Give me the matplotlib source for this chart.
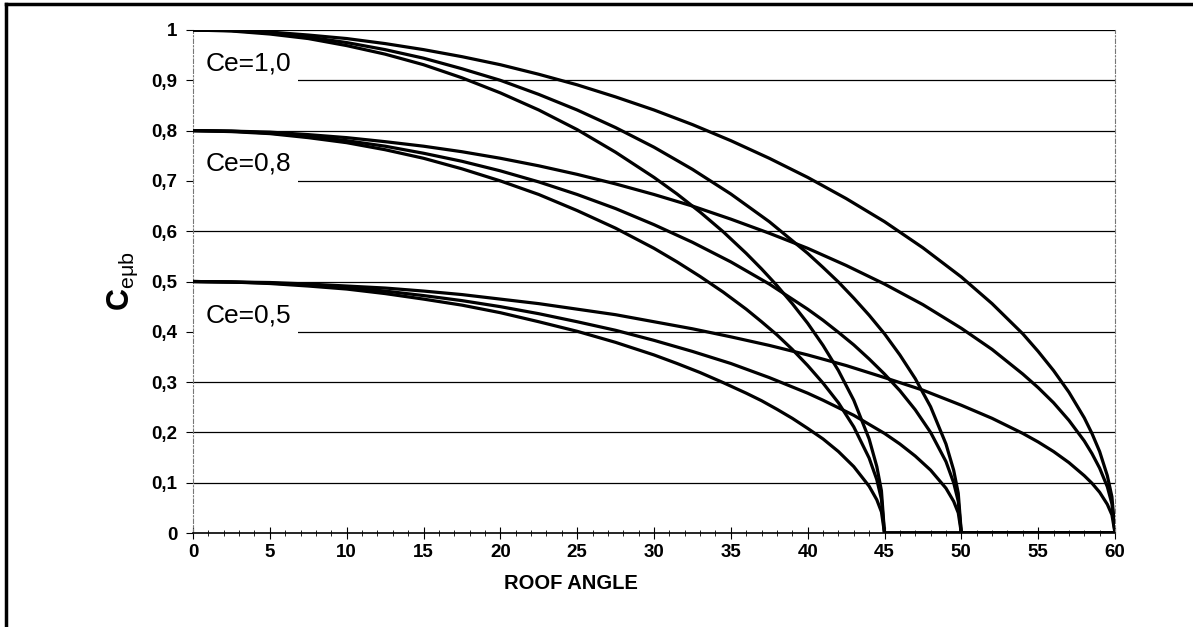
import matplotlib
matplotlib.use('Agg')
import matplotlib.pyplot as plt
from matplotlib.lines import Line2D
from matplotlib.patches import Rectangle
from matplotlib.ticker import MultipleLocator

plt.rcParams['font.family'] = ['Liberation Sans', 'DejaVu Sans']
plt.rcParams['mathtext.fontset'] = 'custom'
plt.rcParams['mathtext.rm'] = 'Liberation Sans'
plt.rcParams['mathtext.it'] = 'Liberation Sans'
plt.rcParams['mathtext.bf'] = 'Liberation Sans:bold'

# roof angle points for the curves that end at 60, 50 and 45 degrees
x_60 = [0, 2.5, 5, 7.5, 10, 12.5, 15, 17.5, 20, 22.5, 25, 27.5, 30, 32.5, 35, 37.5,
        40, 42.5, 45, 47.5, 50, 52, 54, 55, 56, 57, 58, 58.5, 59, 59.5, 59.8, 60]
x_50 = [0, 2.5, 5, 7.5, 10, 12.5, 15, 17.5, 20, 22.5, 25, 27.5, 30, 32.5, 35, 37.5,
        40, 41, 42, 43, 44, 45, 46, 47, 48, 49, 49.5, 49.8, 50, 60]
x_45 = [0, 2.5, 5, 7.5, 10, 12.5, 15, 17.5, 20, 22.5, 25, 27.5, 30, 31.5, 33, 34.5,
        36, 37, 38, 39, 40, 41, 42, 43, 44, 44.5, 44.8, 45, 60]

# Ce = 1,0
ce10_60 = [1.0, 0.999, 0.996, 0.990, 0.983, 0.973, 0.961, 0.947, 0.931, 0.912,
           0.891, 0.867, 0.841, 0.812, 0.780, 0.745, 0.707, 0.665, 0.619, 0.567,
           0.509, 0.456, 0.396, 0.361, 0.323, 0.280, 0.229, 0.198, 0.162, 0.114,
           0.072, 0.0]
ce10_50 = [1.0, 0.999, 0.994, 0.986, 0.975, 0.961, 0.944, 0.923, 0.900, 0.872,
           0.841, 0.806, 0.767, 0.723, 0.674, 0.619, 0.556, 0.528, 0.499, 0.467,
           0.433, 0.396, 0.354, 0.307, 0.251, 0.177, 0.125, 0.079, 0.0, 0.0]
ce10_45 = [1.0, 0.998, 0.992, 0.983, 0.969, 0.952, 0.931, 0.905, 0.875, 0.841,
           0.802, 0.757, 0.707, 0.674, 0.638, 0.599, 0.556, 0.525, 0.492, 0.456,
           0.417, 0.373, 0.323, 0.264, 0.187, 0.132, 0.084, 0.0, 0.0]

# Ce = 0,8
ce08_60 = [0.8, 0.799, 0.797, 0.792, 0.786, 0.778, 0.769, 0.758, 0.745, 0.730,
           0.713, 0.694, 0.673, 0.650, 0.624, 0.596, 0.566, 0.532, 0.495, 0.454,
           0.407, 0.365, 0.316, 0.289, 0.259, 0.224, 0.183, 0.158, 0.129, 0.092,
           0.058, 0.0]
ce08_50 = [0.8, 0.799, 0.795, 0.789, 0.780, 0.769, 0.755, 0.739, 0.720, 0.698,
           0.673, 0.645, 0.613, 0.578, 0.539, 0.495, 0.445, 0.423, 0.399, 0.374,
           0.346, 0.316, 0.283, 0.245, 0.200, 0.142, 0.100, 0.063, 0.0, 0.0]
ce08_45 = [0.8, 0.798, 0.794, 0.786, 0.776, 0.762, 0.745, 0.724, 0.700, 0.673,
           0.641, 0.606, 0.566, 0.539, 0.510, 0.479, 0.445, 0.420, 0.394, 0.365,
           0.333, 0.298, 0.259, 0.211, 0.149, 0.106, 0.067, 0.0, 0.0]

# Ce = 0,5
ce05_60 = [0.5, 0.499, 0.498, 0.495, 0.491, 0.487, 0.481, 0.474, 0.465, 0.456,
           0.445, 0.434, 0.420, 0.406, 0.390, 0.373, 0.354, 0.333, 0.309, 0.284,
           0.254, 0.228, 0.198, 0.181, 0.162, 0.140, 0.114, 0.099, 0.081, 0.057,
           0.036, 0.0]
ce05_50 = [0.5, 0.499, 0.497, 0.493, 0.488, 0.481, 0.472, 0.462, 0.450, 0.436,
           0.420, 0.403, 0.383, 0.361, 0.337, 0.309, 0.278, 0.264, 0.249, 0.234,
           0.216, 0.198, 0.177, 0.153, 0.125, 0.089, 0.063, 0.040, 0.0, 0.0]
ce05_45 = [0.5, 0.499, 0.496, 0.491, 0.485, 0.476, 0.465, 0.453, 0.438, 0.420,
           0.401, 0.379, 0.354, 0.337, 0.319, 0.299, 0.278, 0.263, 0.246, 0.228,
           0.208, 0.187, 0.162, 0.132, 0.093, 0.066, 0.042, 0.0, 0.0]

ce_labels = ['Ce=1,0', 'Ce=0,8', 'Ce=0,5']
ce_label_y = [0.933, 0.734, 0.432]
ytick_vals = [0, 0.1, 0.2, 0.3, 0.4, 0.5, 0.6, 0.7, 0.8, 0.9, 1.0]
ytick_labels = ['0', '0,1', '0,2', '0,3', '0,4', '0,5', '0,6', '0,7', '0,8', '0,9', '1']
xtick_vals = [0, 5, 10, 15, 20, 25, 30, 35, 40, 45, 50, 55, 60]

fig = plt.figure(figsize=(11.93, 6.27), dpi=100)
ax = fig.add_axes([193 / 1193, 1 - 533 / 627, 922 / 1193, 503 / 627])

# horizontal grid
for yv in ytick_vals[1:]:
    ax.axhline(yv, color='black', lw=0.9, zorder=1)

# white patches behind the Ce labels
for ly in [0.9, 0.7, 0.4]:
    ax.add_patch(Rectangle((0.05, ly - 0.015), 6.8, 0.03, facecolor='white',
                           edgecolor='none', zorder=1.5))

series = [
    (x_45, ce10_45), (x_50, ce10_50), (x_60, ce10_60),
    (x_45, ce08_45), (x_50, ce08_50), (x_60, ce08_60),
    (x_45, ce05_45), (x_50, ce05_50), (x_60, ce05_60),
]
for xs, ys in series:
    ax.plot(xs, ys, color='black', lw=2.3, solid_joinstyle='round', zorder=3)

for lab, ly in zip(ce_labels, ce_label_y):
    ax.text(0.8, ly, lab, fontsize=19, va='center', ha='left', zorder=4)

ax.set_xlim(0, 60)
ax.set_ylim(0, 1.0)
ax.set_xticks(xtick_vals)
ax.set_xticklabels([str(v) for v in xtick_vals], fontsize=13.5, fontweight='bold')
ax.xaxis.set_minor_locator(MultipleLocator(1))
ax.set_yticks(ytick_vals)
ax.set_yticklabels(ytick_labels, fontsize=13.5, fontweight='bold')

ax.tick_params(axis='x', which='major', direction='inout', length=8, width=0.8, pad=4)
ax.tick_params(axis='x', which='minor', direction='inout', length=5, width=0.6)
ax.tick_params(axis='y', which='major', direction='out', length=5, width=0.8, pad=6)

for side in ['left', 'right']:
    ax.spines[side].set_color('#777777')
    ax.spines[side].set_linestyle((0, (4, 2, 1, 2)))
    ax.spines[side].set_linewidth(0.8)
ax.spines['top'].set_visible(False)
ax.spines['bottom'].set_linewidth(1.2)

ax.set_xlabel('ROOF ANGLE', fontsize=14.5, fontweight='bold')
ax.xaxis.set_label_coords(0.41, -0.082)
ax.set_ylabel(r'$\mathbf{C}_{\mathrm{e\mu b}}$', fontsize=22)
ax.yaxis.set_label_coords(-0.058, 0.5)

# outer frame (left and top only)
fig.add_artist(Line2D([6 / 1193, 6 / 1193], [0, 1 - 4 / 627], color='black', lw=2.5,
                      transform=fig.transFigure))
fig.add_artist(Line2D([6 / 1193, 1], [1 - 4 / 627, 1 - 4 / 627], color='black', lw=2.5,
                      transform=fig.transFigure))

fig.savefig('out.png', dpi=100)
plt.close(fig)
